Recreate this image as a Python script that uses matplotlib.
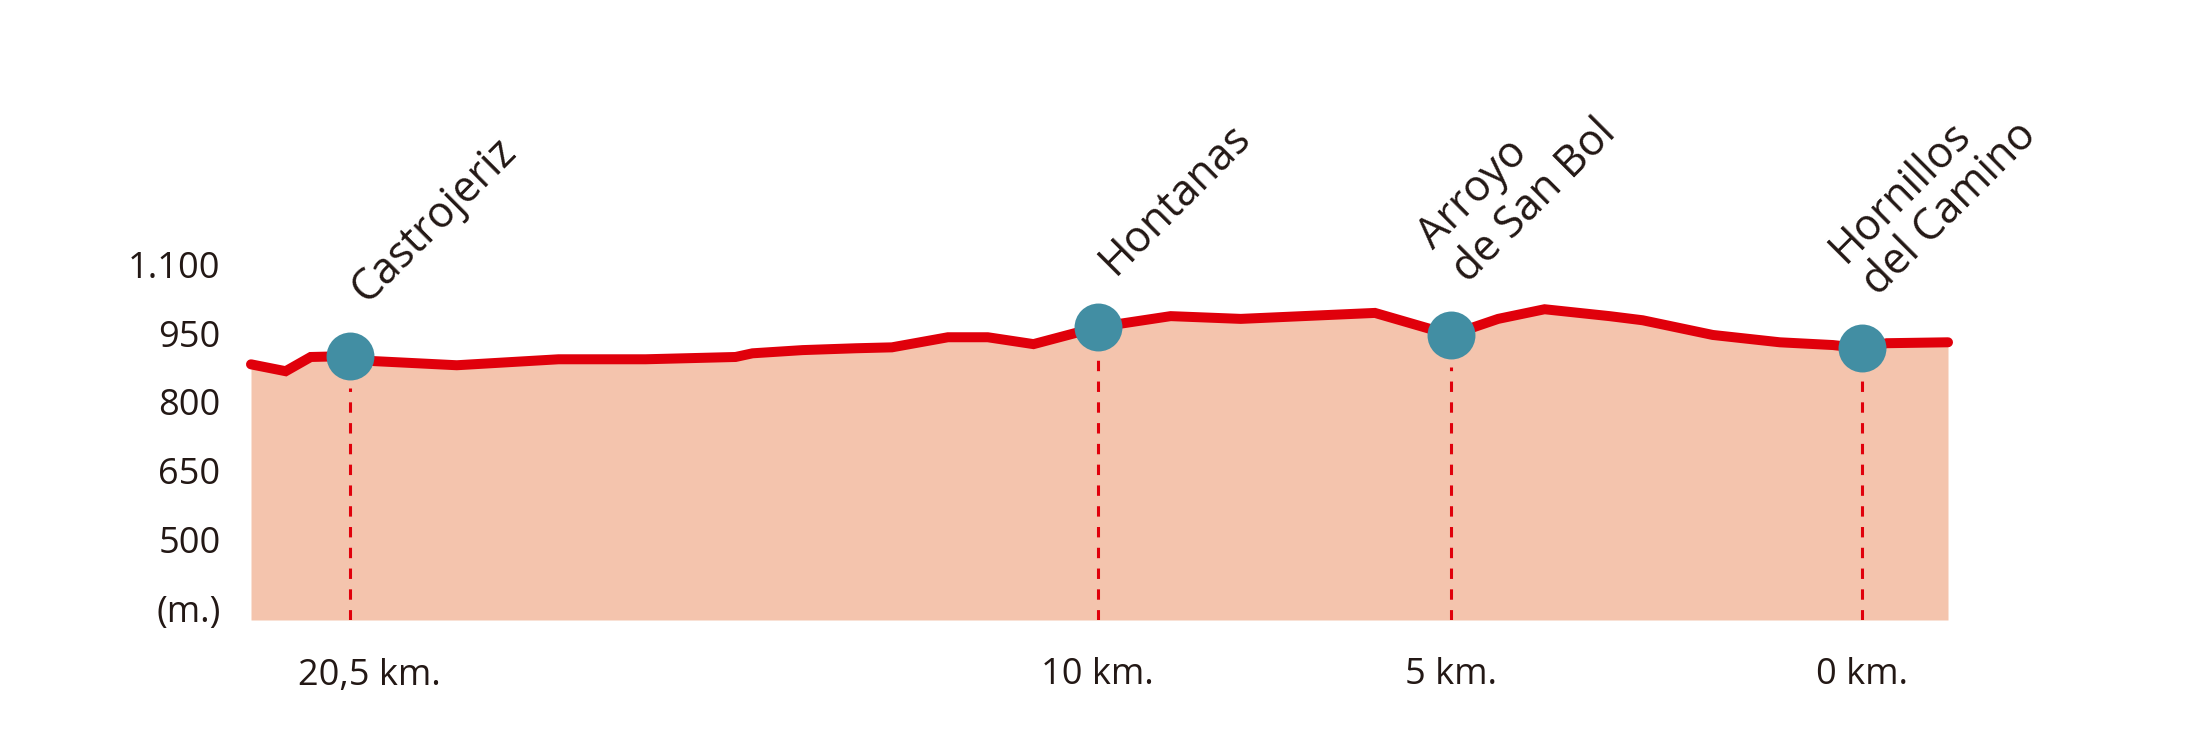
import matplotlib.pyplot as plt
from matplotlib.transforms import ScaledTranslation

# perfil de altitud: distancia restante (km) y altitud (m)
dist_km = [21.84, 21.37, 21.03, 20.5, 20.17, 19.05, 17.67, 16.49, 15.27, 15.04,
           14.36, 13.64, 13.15, 12.39, 11.85, 11.23, 10.36, 9.37, 8.42, 6.60,
           5.57, 4.93, 4.30, 3.42, 2.97, 2.02, 1.11, 0.39, 0.0, -0.34, -1.17]
altitud = [882, 867, 898, 900, 889, 880, 893, 893, 898, 906,
           913, 917, 919, 941, 941, 926, 963, 987, 981, 994,
           946, 981, 1002, 987, 978, 946, 930, 924, 917, 928, 930]

# poblaciones
pueblos = [['Castrojeriz'], ['Hontanas'], ['Arroyo', 'de San Bol'], ['Hornillos', 'del Camino']]
pueblos_km = [20.5, 10.36, 5.57, 0.0]
pueblos_alt = [900, 963, 946, 917]
etiquetas_km = ['20,5 km.', '10 km.', '5 km.', '0 km.']

y_ticks = [1100, 950, 800, 650, 500, 350]
y_etiquetas = ['1.100', '950', '800', '650', '500', '(m.)']

rojo = '#e0000b'
relleno = '#f4c4ad'
azul = '#428ea3'
texto = '#231815'
base = 325

plt.rcParams['font.family'] = ['Open Sans', 'DejaVu Sans']

fig = plt.figure(figsize=(22, 7.51), dpi=100)
ax = fig.add_axes([251 / 2200, 1 - 620 / 751, 1697 / 2200, 420 / 751])

ax.fill_between(dist_km, altitud, base, color=relleno, linewidth=0, zorder=1)
ax.plot(dist_km, altitud, color=rojo, linewidth=7.2, solid_capstyle='round',
        solid_joinstyle='miter', clip_on=False, zorder=3)

# lineas discontinuas bajo cada pueblo
for x, y in zip(pueblos_km, pueblos_alt):
    ax.plot([x, x], [base, y - 70], color=rojo, linewidth=2.2,
            linestyle=(0, (3.4, 3.4)), zorder=2)

ax.plot(pueblos_km, pueblos_alt, 'o', color=azul, markersize=34.5,
        markeredgewidth=0, clip_on=False, zorder=4)

# nombres girados 45 grados
for nombre, x, y in zip(pueblos, pueblos_km, pueblos_alt):
    n = len(nombre)
    for i, linea in enumerate(nombre):
        k = n - 1 - i
        ax.annotate(linea, (x, y), xytext=(12 - 24.5 * k, 37 + 23.8 * k),
                    textcoords='offset points', rotation=45,
                    rotation_mode='anchor', ha='left', va='baseline',
                    fontsize=31, color=texto, annotation_clip=False)

ax.set_xlim(dist_km[0], dist_km[-1])
ax.set_ylim(base, 1240)

ax.set_xticks(pueblos_km, etiquetas_km)
ax.set_yticks(y_ticks, y_etiquetas)
ax.tick_params(axis='x', length=0, pad=27, labelsize=26, labelcolor=texto)
ax.tick_params(axis='y', length=0, pad=22, labelsize=26, labelcolor=texto)

# la primera etiqueta va algo desplazada a la derecha
lab = ax.get_xticklabels()[0]
lab.set_transform(lab.get_transform() + ScaledTranslation(0.2, 0, fig.dpi_scale_trans))

for s in ax.spines.values():
    s.set_visible(False)

plt.savefig('out.png', dpi=100)
